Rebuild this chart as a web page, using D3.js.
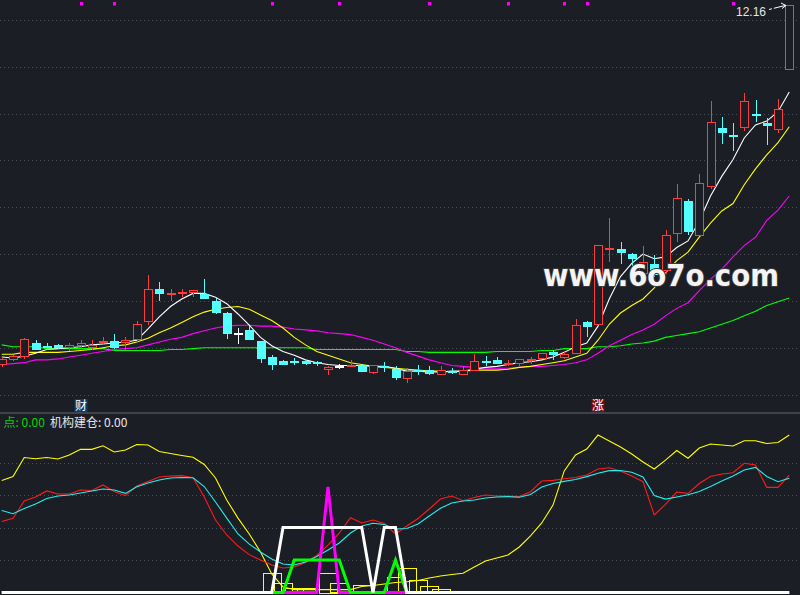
<!DOCTYPE html>
<html><head><meta charset="utf-8">
<script src="https://cdn.jsdelivr.net/npm/d3@7/dist/d3.min.js"></script>
<style>html,body{margin:0;padding:0;background:#1c1e26;overflow:hidden}</style>
</head><body><svg id="c" width="800" height="595"></svg>
<script>
// ---------- data ----------
const openP  = [8.31,8.37,8.40,8.55,8.52,8.53,8.50,8.52,8.50,8.55,8.57,8.55,8.58,8.77,9.13,9.07,9.08,9.08,9.07,9.00,8.87,8.66,8.69,8.57,8.40,8.36,8.36,8.36,8.35,8.26,8.30,8.31,8.31,8.23,8.30,8.27,8.17,8.26,8.26,8.21,8.25,8.21,8.25,8.36,8.37,8.32,8.33,8.36,8.38,8.45,8.39,8.43,8.77,8.74,9.54,9.55,9.50,9.29,9.39,9.32,9.71,10.07,9.69,10.22,10.85,10.77,10.85,11.00,10.90,10.83,11.47];
const closeP = [8.38,8.41,8.59,8.48,8.50,8.50,8.53,8.55,8.53,8.57,8.50,8.58,8.75,9.13,9.07,9.08,9.10,9.12,9.02,8.87,8.65,8.66,8.58,8.38,8.31,8.31,8.34,8.33,8.33,8.29,8.30,8.32,8.24,8.31,8.28,8.18,8.25,8.25,8.22,8.26,8.24,8.26,8.36,8.34,8.33,8.34,8.38,8.38,8.44,8.42,8.43,8.74,8.72,9.60,9.56,9.51,9.45,9.41,9.28,9.70,10.10,9.74,10.26,10.91,10.79,10.76,11.13,10.99,10.87,11.05,12.16];
const highP  = [8.40,8.42,8.60,8.58,8.55,8.54,8.55,8.58,8.58,8.61,8.65,8.61,8.78,9.28,9.20,9.13,9.13,9.12,9.23,9.03,8.88,8.71,8.73,8.57,8.42,8.37,8.39,8.37,8.36,8.30,8.33,8.37,8.33,8.31,8.35,8.30,8.28,8.31,8.30,8.30,8.28,8.30,8.43,8.41,8.40,8.37,8.38,8.40,8.44,8.48,8.46,8.81,8.79,9.60,9.88,9.63,9.51,9.59,9.49,9.76,10.25,10.09,10.36,11.14,10.96,10.90,11.22,11.15,10.95,11.16,12.16];
const lowP   = [8.29,8.36,8.38,8.47,8.48,8.49,8.46,8.49,8.48,8.53,8.49,8.48,8.56,8.74,9.00,9.00,9.04,9.04,9.02,8.86,8.59,8.54,8.58,8.34,8.26,8.31,8.31,8.31,8.30,8.21,8.27,8.30,8.24,8.22,8.24,8.16,8.12,8.21,8.21,8.21,8.22,8.21,8.25,8.30,8.33,8.30,8.30,8.33,8.38,8.37,8.38,8.43,8.61,8.74,9.41,9.39,9.35,9.28,9.25,9.29,9.63,9.70,9.69,10.19,10.68,10.60,10.81,10.91,10.67,10.79,11.47];

const ma5  = [8.40,8.39,8.41,8.44,8.48,8.49,8.50,8.51,8.53,8.54,8.55,8.56,8.58,8.70,8.83,8.94,9.02,9.08,9.08,9.04,8.97,8.86,8.74,8.61,8.52,8.46,8.42,8.37,8.34,8.32,8.31,8.31,8.31,8.30,8.30,8.28,8.25,8.25,8.24,8.24,8.25,8.25,8.27,8.29,8.30,8.32,8.34,8.35,8.37,8.40,8.45,8.51,8.55,8.73,9.02,9.26,9.40,9.50,9.45,9.47,9.57,9.64,9.85,10.12,10.33,10.51,10.74,10.88,10.92,11.02,11.23];
const ma10 = [8.43,8.43,8.45,8.45,8.45,8.45,8.46,8.47,8.48,8.50,8.52,8.53,8.56,8.60,8.66,8.71,8.77,8.83,8.88,8.91,8.93,8.94,8.91,8.85,8.79,8.71,8.61,8.53,8.46,8.42,8.38,8.34,8.32,8.30,8.29,8.28,8.27,8.26,8.25,8.25,8.24,8.25,8.26,8.26,8.26,8.27,8.29,8.30,8.32,8.34,8.36,8.40,8.44,8.58,8.75,8.87,8.95,9.02,9.14,9.30,9.43,9.52,9.68,9.83,9.96,10.04,10.24,10.41,10.56,10.69,10.86];
const ma30 = [8.32,8.33,8.34,8.37,8.37,8.38,8.40,8.42,8.44,8.46,8.48,8.49,8.50,8.53,8.56,8.59,8.61,8.65,8.68,8.71,8.73,8.74,8.74,8.73,8.73,8.72,8.70,8.69,8.68,8.66,8.65,8.64,8.61,8.58,8.54,8.50,8.45,8.41,8.37,8.34,8.31,8.30,8.29,8.28,8.28,8.28,8.29,8.30,8.30,8.31,8.32,8.34,8.37,8.44,8.52,8.58,8.64,8.69,8.75,8.84,8.92,8.98,9.11,9.23,9.34,9.47,9.59,9.68,9.86,9.97,10.12];
const ma60 = [8.53,8.51,8.51,8.51,8.49,8.49,8.49,8.49,8.49,8.49,8.47,8.47,8.47,8.47,8.47,8.48,8.48,8.49,8.50,8.50,8.50,8.50,8.50,8.50,8.50,8.50,8.50,8.50,8.48,8.48,8.48,8.48,8.48,8.48,8.48,8.48,8.46,8.46,8.45,8.45,8.45,8.45,8.45,8.45,8.46,8.46,8.46,8.46,8.47,8.47,8.49,8.49,8.49,8.51,8.51,8.52,8.54,8.55,8.57,8.61,8.63,8.65,8.67,8.71,8.75,8.79,8.84,8.89,8.95,8.99,9.03];

const markIdx = [7,10,24,30,38,45,50,52,65];
const priceTicks = [8,8.5,9,9.5,10,10.5,11,11.5,12];
const maxLabel = "12.16";

// indicator panel
const oscYellow = [68.9,71.3,83.1,82.3,83.1,82.2,84.6,88.1,88.1,90.3,86.5,87.7,91.1,90.8,86.8,85.5,84.3,83.2,78.8,70.5,56.9,45.8,36.0,24.9,11.4,3.4,1.8,1.8,1.8,1.8,1.8,1.8,3.7,4.3,5.2,6.2,6.6,7.4,8.9,10.2,11.1,11.8,15.7,19.4,21.2,23.1,28.0,34.8,42.8,53.8,74.8,84.6,88.3,96.9,93.2,89.5,85.2,80.3,76.0,81.5,87.4,82.6,88.9,91.4,90.8,90.2,93.4,93.4,91.7,92.3,96.9];
const oscRed = [43.7,45.7,56.3,58.8,62.5,60.6,60.6,63.1,62.8,66.2,62.2,59.6,65.5,68.3,71.1,71.7,71.9,70.6,58.8,44.6,35.4,28.6,23.3,20.0,16.9,15.1,15.7,18.5,22.8,29.2,36.6,46.0,42.8,44.6,42.5,36.0,40.9,45.5,51.4,57.5,59.4,56.5,58.5,60.0,59.4,59.3,59.0,62.0,68.6,69.0,70.0,70.8,72.3,76.0,76.8,74.8,71.7,68.2,47.7,54.2,61.8,61.0,67.1,71.4,72.9,73.7,79.5,78.5,64.7,64.7,72.3];
const oscCyan = [50.5,48.5,51.7,54.5,57.8,59.4,60.0,61.2,62.5,63.7,63.1,61.0,65.1,67.4,69.2,70.5,70.8,70.6,65.2,55.7,45.8,36.0,29.8,24.9,20.6,17.5,16.9,18.8,22.2,26.2,30.5,36.6,40.9,42.6,41.8,39.1,39.4,42.2,47.1,51.8,55.1,56.3,56.9,58.2,58.8,59.0,58.6,60.3,64.9,67.1,68.4,69.5,71.3,73.4,75.0,75.1,74.0,71.1,59.7,57.5,58.8,60.1,62.2,65.2,68.6,71.7,75.4,77.0,71.4,68.2,70.3];
const N = closeP.length;
const sigWhite = d3.range(N).map(i => (i>=25&&i<=32)||(i>=34&&i<=35) ? 40 : 0);
const sigGreen = d3.range(N).map(i => (i>=26&&i<=30)||i===35 ? 20 : 0);
const sigMagenta = d3.range(N).map(i => i===29 ? 65 : 0);
const boxIdx = [24,25,26,27,29,30,32,35,36,37,38,39];
const boxVal = [12,6,3,2.6,12,5.7,4.6,9.4,14.9,7.7,4,2];
const oscTicks = [20,40,60,80];

// ---------- drawing ----------
const svg = d3.select("#c");
const W = 800;
const BG = "#1c1e26", RED = "#ff3c3c", CYAN = "#54ffff";
svg.append("rect").attr("width",800).attr("height",595).attr("fill",BG);

const x = d3.scaleLinear().domain([0,70]).range([1.75,789.25]);
const yP = d3.scaleLinear().domain([8,12]).range([394.5,20]);
const yI = d3.scaleLinear().domain([0,100]).range([592.5,430]);

const grid = svg.append("g").attr("shape-rendering","crispEdges");
grid.selectAll(".gp").data(priceTicks).join("line")
  .attr("x1",0).attr("x2",W).attr("y1",d=>Math.round(yP(d))+0.5).attr("y2",d=>Math.round(yP(d))+0.5)
  .attr("stroke","#4a4f5b").attr("stroke-dasharray","1 3");
grid.selectAll(".gi").data(oscTicks).join("line")
  .attr("x1",0).attr("x2",W).attr("y1",d=>Math.round(yI(d))+0.5).attr("y2",d=>Math.round(yI(d))+0.5)
  .attr("stroke","#4a4f5b").attr("stroke-dasharray","1 3");
// separator
svg.append("line").attr("x1",0).attr("x2",W).attr("y1",413).attr("y2",413)
  .attr("stroke","#4c515c").attr("stroke-width",1.5);

// moving averages
const lineOf = (arr, ys) => d3.line().x((d,i)=>x(i)).y(d=>ys(d))(arr);
[[ma60,"#00ff00"],[ma30,"#ff00ff"],[ma10,"#ffff00"],[ma5,"#ffffff"]].forEach(([a,c])=>{
  svg.append("path").attr("d",lineOf(a,yP)).attr("fill","none").attr("stroke",c).attr("stroke-width",1.1);
});

// candles
const cg = svg.append("g").attr("shape-rendering","crispEdges");
d3.range(N).forEach(i=>{
  const o=openP[i], c=closeP[i], h=highP[i], l=lowP[i];
  const xc = Math.round(x(i));
  const up = c>o, flat = c===o;
  const col = flat ? "#ffffff" : (up ? RED : CYAN);
  const top = Math.round(yP(Math.max(o,c))), bot = Math.round(yP(Math.min(o,c)));
  const yh = Math.round(yP(h)), yl = Math.round(yP(l));
  if (up) {
    if (yh < top) cg.append("line").attr("x1",xc+0.5).attr("x2",xc+0.5).attr("y1",yh).attr("y2",top).attr("stroke",col);
    if (yl > bot) cg.append("line").attr("x1",xc+0.5).attr("x2",xc+0.5).attr("y1",bot).attr("y2",yl).attr("stroke",col);
    cg.append("rect").attr("x",xc-4+0.5).attr("y",top+0.5).attr("width",8).attr("height",Math.max(1,bot-top-1))
      .attr("fill",BG).attr("stroke",col);
  } else {
    cg.append("line").attr("x1",xc+0.5).attr("x2",xc+0.5).attr("y1",yh).attr("y2",yl).attr("stroke",col);
    if (flat || bot-top<1) {
      cg.append("rect").attr("x",xc-4).attr("y",top).attr("width",9).attr("height",1.5).attr("fill",col);
    } else {
      cg.append("rect").attr("x",xc-4).attr("y",top).attr("width",9).attr("height",Math.max(1.5,bot-top)).attr("fill",col);
    }
  }
});

// top markers
svg.selectAll(".mk").data(markIdx).join("rect")
  .attr("x",d=>Math.round(x(d))-1).attr("y",2).attr("width",3).attr("height",3.5).attr("fill","#ff00ff");

// max label
svg.append("text").attr("x",736).attr("y",15.5).attr("font-family","Liberation Sans, Arial, sans-serif")
  .attr("font-size",13).attr("fill","#e6e6e6").attr("textLength",30).attr("lengthAdjust","spacingAndGlyphs").text(maxLabel);
svg.append("line").attr("x1",769).attr("y1",9.5).attr("x2",785).attr("y2",5.5).attr("stroke","#ffffff").attr("stroke-width",1).attr("stroke-dasharray","3 2 30");
svg.append("path").attr("d","M781,3 L786,5.5 L782,8.5").attr("fill","none").attr("stroke","#ffffff").attr("stroke-width",1);

// watermark
svg.append("text").attr("x",0).attr("y",0).attr("transform","translate(543,286) scale(0.89,1)")
  .attr("font-family","DejaVu Sans, sans-serif").attr("font-weight","bold")
  .attr("font-size",31)
  .attr("fill","#f4f4f4").attr("stroke","#3a3a3a").attr("stroke-width",2).attr("paint-order","stroke")
  .text("www.6o7o.com");

// event labels
function tag(i, txt, bg) {
  const xc = Math.round(x(i));
  svg.append("rect").attr("x",xc-6.5).attr("y",399).attr("width",13).attr("height",13).attr("fill",bg);
  svg.append("text").attr("x",xc).attr("y",410).attr("text-anchor","middle").attr("font-family","Noto Sans CJK SC, sans-serif")
    .attr("font-size",12).attr("fill","#ffffff").text(txt);
}
tag(7,"财","#0d3b6b");
tag(53,"涨","#7a0a0a");

// indicator legend
svg.append("text").attr("x",3.5).attr("y",426.5).attr("font-family","Noto Sans CJK SC, sans-serif").attr("font-size",12)
  .attr("fill","#00d400").text("点: 0.00");
svg.append("text").attr("x",50).attr("y",426.5).attr("font-family","Noto Sans CJK SC, sans-serif").attr("font-size",12)
  .attr("fill","#e6e6e6").text("机构建仓: 0.00");

// indicator boxes
const bw = 18;
svg.append("g").attr("shape-rendering","crispEdges").selectAll("rect").data(boxIdx).join("rect")
  .attr("x",d=>Math.round(x(d)-bw/2)+0.5).attr("y",(d,k)=>Math.round(yI(boxVal[k]))+0.5)
  .attr("width",bw).attr("height",(d,k)=>Math.max(1,yI(0)-yI(boxVal[k])))
  .attr("fill","none").attr("stroke","#ffff00").attr("stroke-width",1);

// indicator lines
[[oscYellow,"#ffff00"],[oscRed,"#ff1a1a"],[oscCyan,"#22eeee"]].forEach(([a,c])=>{
  svg.append("path").attr("d",lineOf(a,yI)).attr("fill","none").attr("stroke",c).attr("stroke-width",1.1);
});
[[sigMagenta,"#ff00ff"],[sigGreen,"#00ff00"],[sigWhite,"#ffffff"]].forEach(([a,c])=>{
  svg.append("path").attr("d",lineOf(a,yI)).attr("fill","none").attr("stroke",c).attr("stroke-width",3).attr("stroke-linejoin","miter");
});
</script>
</body></html>
